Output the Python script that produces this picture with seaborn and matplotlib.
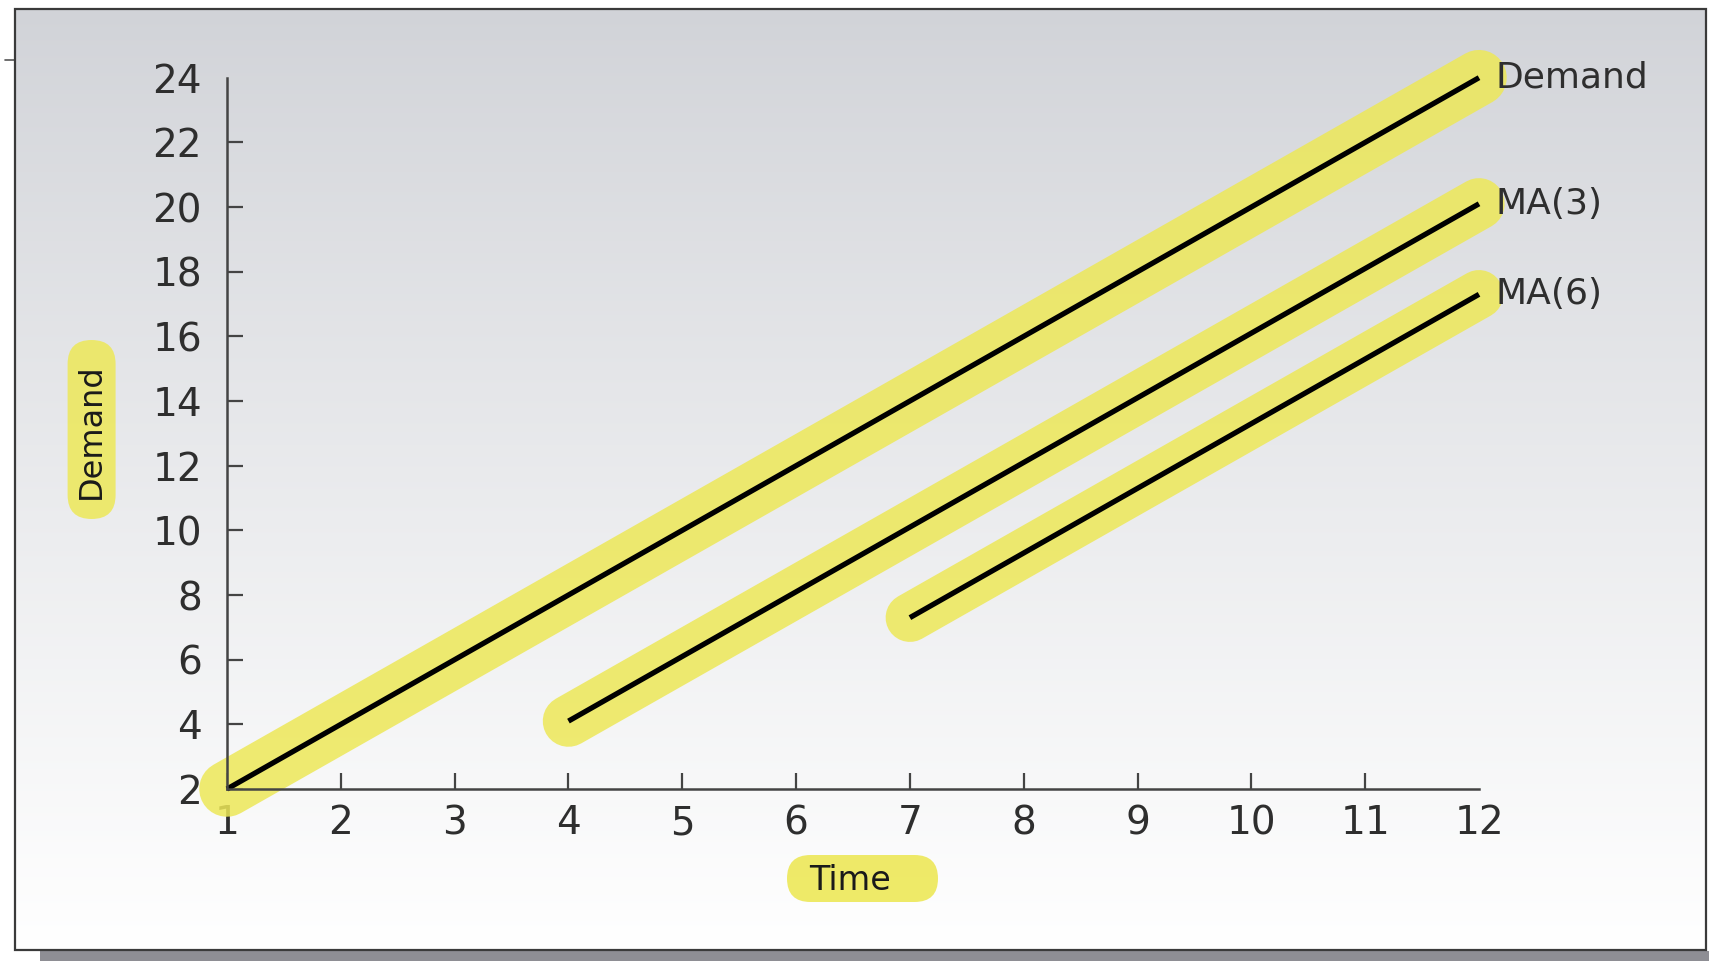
import matplotlib.pyplot as plt
import seaborn as sns
import numpy as np
import pandas as pd
from matplotlib.patches import Rectangle, FancyBboxPatch
from matplotlib.lines import Line2D

# data
time = [1, 2, 3, 4, 5, 6, 7, 8, 9, 10, 11, 12]
demand = [2, 4, 6, 8, 10, 12, 14, 16, 18, 20, 22, 24]
ma3_time = [4, 5, 6, 7, 8, 9, 10, 11, 12]
ma3 = [4.1, 6.1, 8.1, 10.1, 12.1, 14.1, 16.1, 18.1, 20.1]
ma6_time = [7, 8, 9, 10, 11, 12]
ma6 = [7.3, 9.3, 11.3, 13.3, 15.3, 17.3]
series_names = ['Demand', 'MA(3)', 'MA(6)']
x_ticks = [1, 2, 3, 4, 5, 6, 7, 8, 9, 10, 11, 12]
y_ticks = [2, 4, 6, 8, 10, 12, 14, 16, 18, 20, 22, 24]

sns.set_style('white')
plt.rcParams['font.family'] = ['DejaVu Sans']

ink = '#2e2e2e'
yellow = '#ede858'

fig = plt.figure(figsize=(17.09, 9.61), dpi=100)
fig.patch.set_facecolor('white')

# grey-to-white gradient panel inside the frame
bg = fig.add_axes([15 / 1709, 11 / 961, 1691 / 1709, 941 / 961])
bg.set_zorder(-3)
g = np.linspace(0, 1, 256) ** 0.9
top = np.array([209, 211, 216]) / 255
grad = top[None, :] * (1 - g[:, None]) + 1.0 * g[:, None]
grad = np.clip(grad, 0, 1)[:, None, :]
bg.imshow(grad, aspect='auto', extent=[0, 1, 0, 1], interpolation='bilinear')
bg.set_axis_off()

# frame, shadow, small tick at upper left
fig.add_artist(Rectangle((40 / 1709, 0), 1, 10 / 961, transform=fig.transFigure,
                         facecolor='#8e8e94', edgecolor='none', zorder=-4))
fig.add_artist(Rectangle((15 / 1709, 11 / 961), 1691 / 1709, 941 / 961,
                         transform=fig.transFigure, fill=False,
                         edgecolor='#3a3a3a', linewidth=1.6, zorder=5))
fig.add_artist(Line2D([5 / 1709, 15 / 1709], [1 - 60 / 961, 1 - 60 / 961],
                      transform=fig.transFigure, color='#555555', linewidth=1.2))

# axis-label highlight pills (inches)
fig.add_artist(FancyBboxPatch((7.87, 0.59), 1.51, 0.47,
                              boxstyle='round,pad=0,rounding_size=0.235',
                              transform=fig.dpi_scale_trans, facecolor=yellow,
                              edgecolor='none', alpha=0.9, zorder=-1))
fig.add_artist(FancyBboxPatch((0.676, 4.42), 0.48, 1.79,
                              boxstyle='round,pad=0,rounding_size=0.24',
                              transform=fig.dpi_scale_trans, facecolor=yellow,
                              edgecolor='none', alpha=0.85, zorder=-1))

ax = fig.add_axes([227 / 1709, 172 / 961, 1252 / 1709, 711.3 / 961])
ax.set_facecolor('none')

frames = [
    pd.DataFrame({'Time': time, 'Demand': demand}),
    pd.DataFrame({'Time': ma3_time, 'Demand': ma3}),
    pd.DataFrame({'Time': ma6_time, 'Demand': ma6}),
]
hl_widths = [40, 37, 35]

for df, name, w in zip(frames, series_names, hl_widths):
    sns.lineplot(data=df, x='Time', y='Demand', ax=ax, color=yellow, alpha=0.85,
                 linewidth=w, solid_capstyle='round', clip_on=False, zorder=1)
    sns.lineplot(data=df, x='Time', y='Demand', ax=ax, color='black',
                 linewidth=3.8, solid_capstyle='butt', clip_on=False, zorder=2)
    ax.annotate(name, xy=(df['Time'].iloc[-1], df['Demand'].iloc[-1]),
                xytext=(12, 0), textcoords='offset points', ha='left',
                va='center', fontsize=26, color=ink, annotation_clip=False)

ax.set_xlim(1, 12)
ax.set_ylim(2, 24)
ax.set_xticks(x_ticks)
ax.set_yticks(y_ticks)
ax.tick_params(axis='both', direction='in', length=11.5, width=1.6, color='#444444',
               labelsize=28, labelcolor=ink, bottom=True, left=True)
ax.tick_params(axis='x', pad=11)
ax.tick_params(axis='y', pad=18)
ax.xaxis.get_major_ticks()[-1].tick1line.set_visible(False)
ax.yaxis.get_major_ticks()[-1].tick1line.set_visible(False)

for s in ['top', 'right']:
    ax.spines[s].set_visible(False)
for s in ['left', 'bottom']:
    ax.spines[s].set_color('#444444')
    ax.spines[s].set_linewidth(1.8)

ax.set_xlabel('Time', fontsize=24, color='#1a1a1a', va='center', ha='center')
ax.set_ylabel('Demand', fontsize=23, color='#1a1a1a', va='center', ha='center')
ax.xaxis.set_label_coords(0.4976, -0.128)
ax.yaxis.set_label_coords(-0.108, 0.5025)

fig.savefig('out.png', dpi=100)
